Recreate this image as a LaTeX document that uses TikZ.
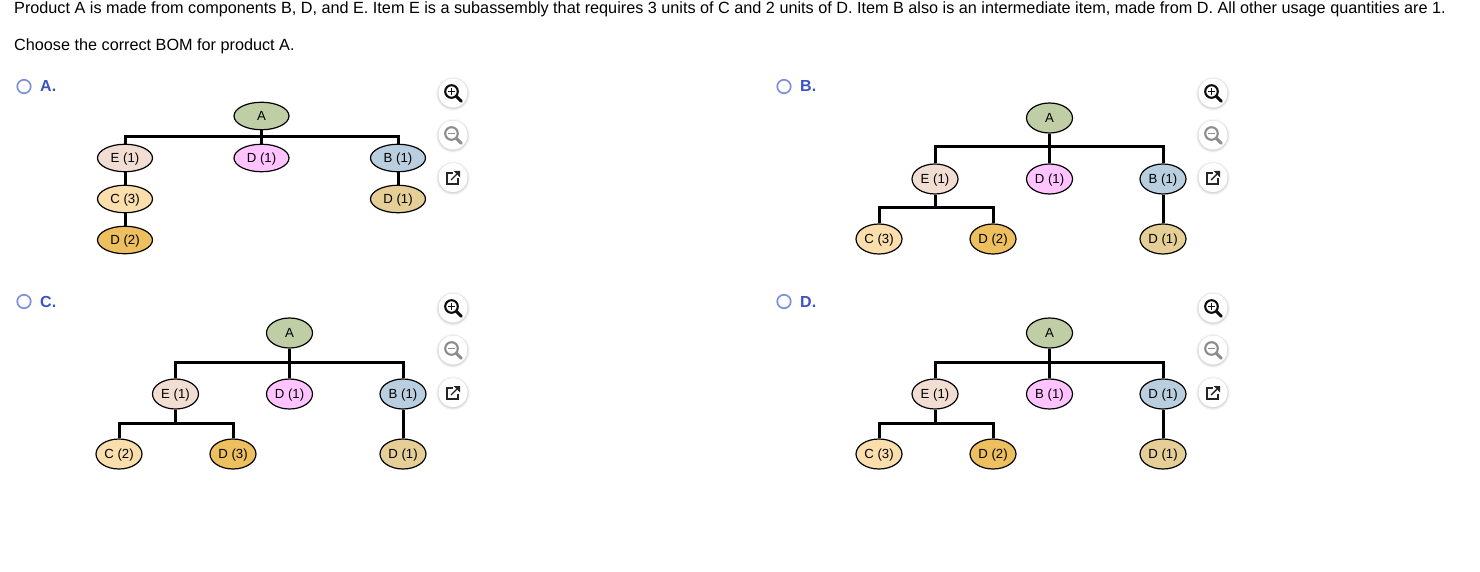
\documentclass[tikz,border=0pt]{standalone}
\usepackage{fontspec}
\setmainfont{Liberation Sans}
\usetikzlibrary{shapes.geometric}
\definecolor{partA}{HTML}{BFCEA4}
\definecolor{partE}{HTML}{F2DDD3}
\definecolor{partD}{HTML}{FFC4FF}
\definecolor{partB}{HTML}{B9CFDF}
\definecolor{partC}{HTML}{FADFAD}
\definecolor{partDtwo}{HTML}{EDBF5E}
\definecolor{partDone}{HTML}{E5CF96}
\definecolor{optblue}{HTML}{3B52C4}
\definecolor{optring}{HTML}{7C90DC}
\tikzset{
	pics/softdisc/.style={code={
		\fill[black, opacity=0.03] (0,0.8) circle (17);
		\fill[black, opacity=0.05] (0,0.8) circle (16);
		\fill[black, opacity=0.07] (0,0.6) circle (15.2);
		\fill[white] (0,0) circle (14.5);
	}},
	pics/zoomin/.style={code={
		\pic {softdisc};
		\draw[line width=2.1pt, black!#1] (-1.5,-1.5) circle (6.3);
		\draw[line width=3pt, black!#1, line cap=round] (3.2,3.2) -- (8.3,8.3);
		\draw[line width=1.2pt, black!#1] (-4.6,-1.5) -- (1.6,-1.5);
	}},
	pics/zoomplus/.style={code={
		\pic {zoomin=#1};
		\draw[line width=1.2pt, black!#1] (-1.5,-4.6) -- (-1.5,1.6);
	}},
	pics/popout/.style={code={
		\pic {softdisc};
		\draw[line width=1.4pt, black!85] (-0.5,-4.5) -- (-6,-4.5) -- (-6,6.5) -- (5,6.5) -- (5,1);
		\draw[line width=1.4pt, black!85] (-2,2.5) -- (4,-3.5);
		\fill[black!85] (0.5,-6.5) -- (7,-6.5) -- (7,0) -- cycle;
	}}
}
\begin{document}
\begin{tikzpicture}[x=1pt, y=-1pt,
	part/.style={ellipse, draw=black, line width=1.2pt, inner sep=0pt, text height=9.5pt, text depth=0.5pt, font=\fontsize{13.2}{13.2}\selectfont},
	wide/.style={part, minimum width=55pt, minimum height=27.5pt},
	tall/.style={part, minimum width=46pt, minimum height=30pt},
	elbow/.style={to path={(\tikztostart.north) -- (\tikztostart.north |- 0,#1) -| (\tikztotarget.south)}},
	stem/.style={to path={(\tikztostart.north) -- (\tikztotarget.south)}},
	every edge/.style={draw, line width=3pt},
	txt/.style={anchor=base west, inner sep=0pt, font=\fontsize{16.22}{16.22}\selectfont},
	radio/.style={circle, draw=optring, line width=1.7pt, fill=white, minimum size=13.5pt, inner sep=0pt},
	optlabel/.style={anchor=base west, inner sep=0pt, text=optblue, font=\fontsize{16}{16}\selectfont\bfseries}]
	\useasboundingbox (0,0) rectangle (1480,572);

	\node[txt] (Q1) at (14,13.7) {Product A is made from components B, D, and E. Item E is a subassembly that requires 3 units of C and 2 units of D. Item B also is an intermediate item, made from D. All other usage quantities are 1.};
	\node[txt] (Q2) at (14,50.7) {Choose the correct BOM for product A.};

	% option A
	\node[radio] (RA) at (24,86.5) {};
	\node[optlabel] (LA) at (40,92) {A.};
	\node[wide, fill=partA] (A0) at (261.5,116) {A};
	\node[wide, fill=partE] (A1) at (125,158) {E (1)} edge[elbow=137] (A0);
	\node[wide, fill=partD] (A2) at (261.5,158) {D (1)} edge[stem] (A0);
	\node[wide, fill=partB] (A3) at (398,158) {B (1)} edge[elbow=137] (A0);
	\node[wide, fill=partC] (A4) at (125,199) {C (3)} edge[stem] (A1);
	\node[wide, fill=partDone] (A5) at (398,199) {D (1)} edge[stem] (A3);
	\node[wide, fill=partDtwo] (A6) at (125,240) {D (2)} edge[stem] (A4);

	% option B
	\node[radio] (RB) at (784,86.5) {};
	\node[optlabel] (LB) at (800,92) {B.};
	\node[tall, fill=partA] (B0) at (1049.5,118) {A};
	\node[tall, fill=partE] (B1) at (935,179) {E (1)} edge[elbow=147] (B0);
	\node[tall, fill=partD] (B2) at (1049.5,179) {D (1)} edge[stem] (B0);
	\node[tall, fill=partB] (B3) at (1163,179) {B (1)} edge[elbow=147] (B0);
	\node[tall, fill=partC] (B4) at (879,239) {C (3)} edge[elbow=208] (B1);
	\node[tall, fill=partDtwo] (B5) at (993,239) {D (2)} edge[elbow=208] (B1);
	\node[tall, fill=partDone] (B6) at (1163,239) {D (1)} edge[stem] (B3);

	% option C
	\node[radio] (RC) at (24,301.5) {};
	\node[optlabel] (LC) at (40,307) {C.};
	\node[tall, fill=partA] (C0) at (289.5,333) {A};
	\node[tall, fill=partE] (C1) at (175.5,394) {E (1)} edge[elbow=362] (C0);
	\node[tall, fill=partD] (C2) at (289.5,394) {D (1)} edge[stem] (C0);
	\node[tall, fill=partB] (C3) at (403,394) {B (1)} edge[elbow=362] (C0);
	\node[tall, fill=partC] (C4) at (119,454) {C (2)} edge[elbow=423] (C1);
	\node[tall, fill=partDtwo] (C5) at (233,454) {D (3)} edge[elbow=423] (C1);
	\node[tall, fill=partDone] (C6) at (403,454) {D (1)} edge[stem] (C3);

	% option D
	\node[radio] (RD) at (784,301.5) {};
	\node[optlabel] (LD) at (800,307) {D.};
	\node[tall, fill=partA] (D0) at (1049.5,333) {A};
	\node[tall, fill=partE] (D1) at (935,394) {E (1)} edge[elbow=362] (D0);
	\node[tall, fill=partD] (D2) at (1049.5,394) {B (1)} edge[stem] (D0);
	\node[tall, fill=partB] (D3) at (1163,394) {D (1)} edge[elbow=362] (D0);
	\node[tall, fill=partC] (D4) at (879,454) {C (3)} edge[elbow=423] (D1);
	\node[tall, fill=partDtwo] (D5) at (993,454) {D (2)} edge[elbow=423] (D1);
	\node[tall, fill=partDone] (D6) at (1163,454) {D (1)} edge[stem] (D3);

	% icons beside each option
	\foreach \ix/\iy in {453/93, 1213/93, 453/308, 1213/308} {
		\pic at (\ix,\iy) {zoomplus=95};
		\pic at (\ix,\iy+42) {zoomin=45};
		\pic at (\ix,\iy+84.5) {popout};
	}
\end{tikzpicture}
\end{document}
